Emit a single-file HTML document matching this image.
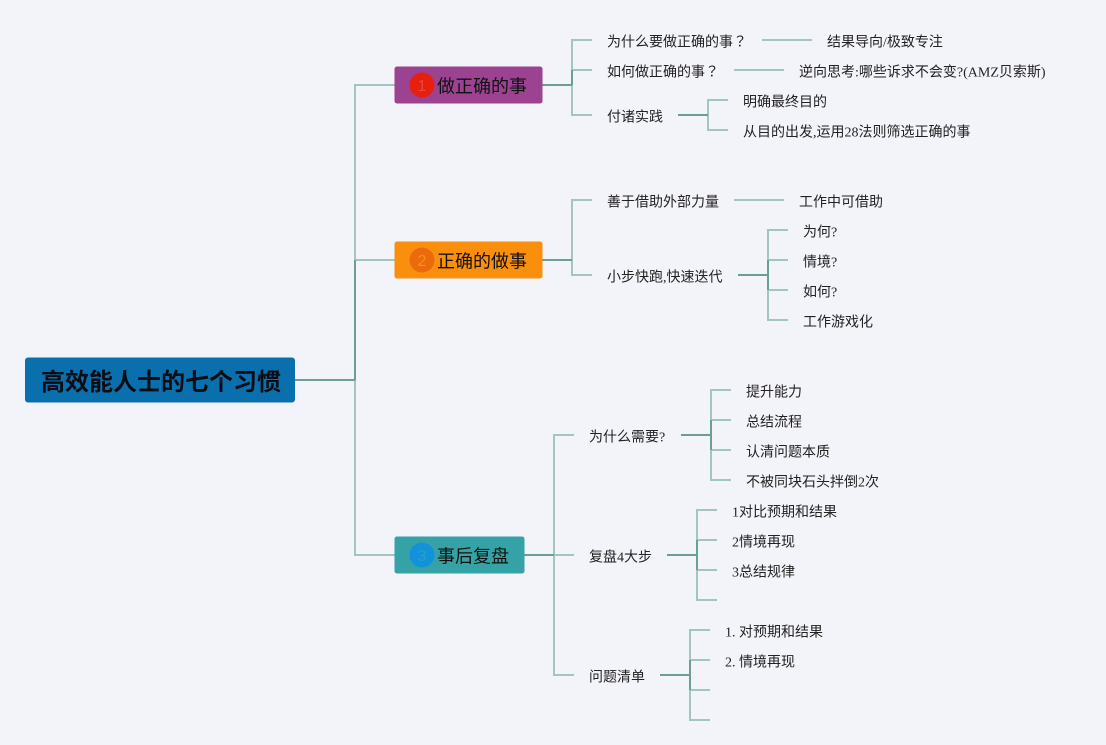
<!DOCTYPE html>
<html><head><meta charset="utf-8">
<style>
html,body{margin:0;padding:0;background:#f3f3fa;width:1106px;height:745px;overflow:hidden}
svg{display:block}
text{font-family:"Liberation Serif","Noto Sans CJK SC",sans-serif;fill:#222;font-size:14px}
.q{font-family:"Noto Sans CJK TC",sans-serif}
.t1{font-size:18px;fill:#111}
.n{font-family:"Liberation Sans",sans-serif;font-size:16px}
.root{font-family:"Liberation Sans","Noto Sans CJK SC",sans-serif;font-size:24px;font-weight:bold;fill:#0c0c14}
.l{fill:none;stroke:#a3c5c0;stroke-width:2}
.d{fill:none;stroke:#6c9f94;stroke-width:2}
</style></head><body>
<svg width="1106" height="745" viewBox="0 0 1106 745" xmlns="http://www.w3.org/2000/svg">
<!-- main branches -->
<path class="l" d="M394.500 85H355V555H394.500M355 260H394.500"/>
<path class="d" d="M295 380H355M355 260V380"/>
<!-- topic1 -->
<path class="l" d="M592 40H572V115H592M572 70H592"/>
<path class="d" d="M542 85H572M572 70V85"/>
<path class="l" d="M762 40H812M734 70H784"/>
<path class="l" d="M728 100H708V130H728"/>
<path class="d" d="M678 115H708"/>
<!-- topic2 -->
<path class="l" d="M592 200H572V275H592"/>
<path class="d" d="M542 260H572"/>
<path class="l" d="M734 200H784"/>
<path class="l" d="M788 230H768V320H788M768 260H788M768 290H788"/>
<path class="d" d="M738 275H768M768 260V290"/>
<!-- topic3 -->
<path class="l" d="M574 435H554V675H574M554 555H574"/>
<path class="d" d="M524 555H554"/>
<path class="l" d="M731 390H711V480H731M711 420H731M711 450H731"/>
<path class="d" d="M681 435H711M711 420V450"/>
<path class="l" d="M717 510H697V600H717M697 540H717M697 570H717"/>
<path class="d" d="M667 555H697M697 540V570"/>
<path class="l" d="M710 630H690V720H710M690 660H710M690 690H710"/>
<path class="d" d="M660 675H690M690 660V690"/>
<!-- nodes -->
<rect x="25" y="357.500" width="270" height="45" rx="3" fill="#0a70ad"/>
<text x="41" y="390" class="root">高效能人士的七个习惯</text>

<rect x="394.500" y="66.500" width="148" height="37" rx="2.500" fill="#9b4391"/>
<circle cx="422" cy="85" r="12.500" fill="#e5200f"/>
<text x="422" y="91" class="n" text-anchor="middle" style="fill:#f0433a">1</text>
<text x="437" y="92.500" class="t1">做正确的事</text>

<rect x="394.500" y="241.500" width="148" height="37" rx="2.500" fill="#fa8f0e"/>
<circle cx="422" cy="260" r="12.500" fill="#ea6a0c"/>
<text x="422" y="266" class="n" text-anchor="middle" style="fill:#f98f20">2</text>
<text x="437" y="267.500" class="t1">正确的做事</text>

<rect x="394.500" y="536.500" width="130" height="37" rx="2.500" fill="#35a3a5"/>
<circle cx="422" cy="555" r="12.500" fill="#1292db"/>
<text x="422" y="561" class="n" text-anchor="middle" style="fill:#2a9fc8">3</text>
<text x="437" y="562.500" class="t1">事后复盘</text>

<!-- labels -->
<text x="607" y="46.500">为什么要做正确的事<tspan class="q">？</tspan></text>
<text x="607" y="76.500">如何做正确的事<tspan class="q">？</tspan></text>
<text x="607" y="121.500">付诸实践</text>
<text x="827" y="46.500">结果导向/极致专注</text>
<text x="799" y="76.500">逆向思考:哪些诉求不会变?(AMZ贝索斯)</text>
<text x="743" y="106.500">明确最终目的</text>
<text x="743" y="136.500">从目的出发,运用28法则筛选正确的事</text>

<text x="607" y="206.500">善于借助外部力量</text>
<text x="607" y="281.500">小步快跑,快速迭代</text>
<text x="799" y="206.500">工作中可借助</text>
<text x="803" y="236.500">为何?</text>
<text x="803" y="266.500">情境?</text>
<text x="803" y="296.500">如何?</text>
<text x="803" y="326.500">工作游戏化</text>

<text x="589" y="441.500">为什么需要?</text>
<text x="589" y="561.500">复盘4大步</text>
<text x="589" y="681.500">问题清单</text>
<text x="746" y="396.500">提升能力</text>
<text x="746" y="426.500">总结流程</text>
<text x="746" y="456.500">认清问题本质</text>
<text x="746" y="486.500">不被同块石头拌倒2次</text>
<text x="732" y="516.500">1对比预期和结果</text>
<text x="732" y="546.500">2情境再现</text>
<text x="732" y="576.500">3总结规律</text>
<text x="725" y="636.500">1. 对预期和结果</text>
<text x="725" y="666.500">2. 情境再现</text>
</svg>
</body></html>
